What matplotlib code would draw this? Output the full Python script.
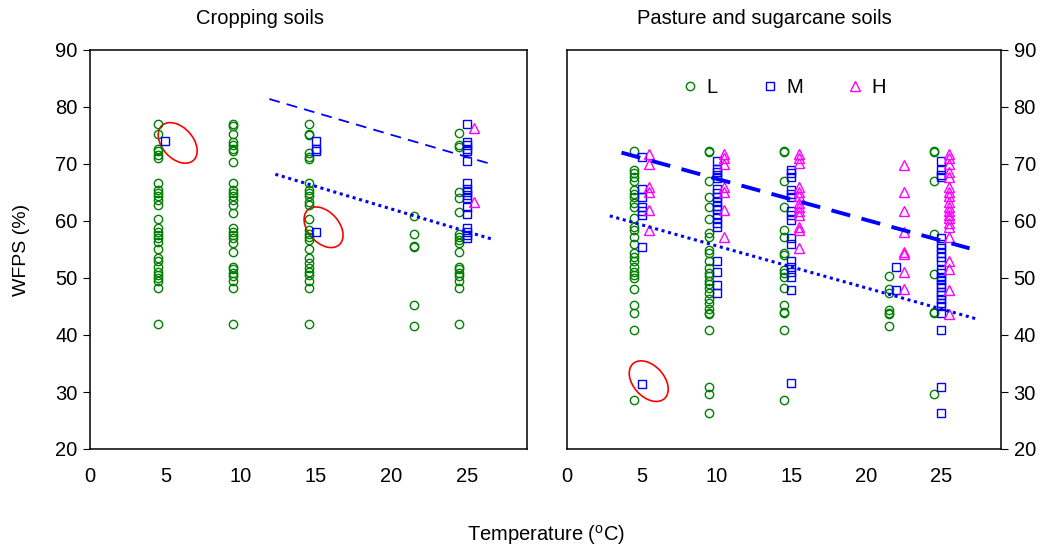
import matplotlib
matplotlib.use("Agg")
import matplotlib.pyplot as plt
import matplotlib.transforms as mtransforms
from matplotlib.patches import Ellipse
from matplotlib.lines import Line2D

plt.rcParams['font.family'] = ['Liberation Sans', 'DejaVu Sans']

temps = [5, 10, 15, 22, 25]

# Cropping soils: WFPS values per temperature (5, 10, 15, 22, 25)
crop_L = [
    [77, 75.2, 72.7, 72.2, 71.6, 71, 66.7, 65.4, 64.9, 64.3, 63.7, 62.8, 60.3, 58.7,
     58.1, 57.5, 57, 56.4, 55, 53.5, 52.9, 52, 51.1, 50.5, 50, 49.4, 48.3, 42],
    [77, 76.6, 75.2, 73.9, 73.3, 72.7, 72.2, 70.4, 66.7, 65.4, 64.9, 64.3, 63.7, 62.8,
     61.4, 58.7, 58.1, 57.5, 57, 56.1, 54.5, 52, 51.5, 50.9, 50.3, 49.4, 48.3, 42],
    [77, 75.2, 75.1, 72, 71.3, 70.8, 66.7, 65.4, 64.9, 64.3, 63.4, 62.8, 60.3, 58.4,
     57.8, 57.2, 56.7, 55, 53.5, 52.6, 51.7, 51.1, 50.5, 49.4, 48.3, 42],
    [60.8, 57.7, 55.5, 55.7, 45.3, 41.5],
    [75.4, 73.3, 73, 65.1, 64, 61.6, 57.8, 57.25, 56.7, 56.1, 54.6, 52, 51.5, 50.9,
     50.3, 49.4, 48.3, 42],
]
crop_M = [
    [74],
    [],
    [74, 72.7, 72.2, 58],
    [],
    [77, 73.9, 73.3, 72.7, 72.2, 70.5, 66.6, 65.7, 65.1, 64.6, 64, 62.5, 61.2, 58.7,
     58.1, 57.5, 57],
]
crop_H = [[], [], [], [], [76.3, 63.4]]

# Pasture and sugarcane soils
past_L = [
    [72.3, 68.9, 68.4, 67.7, 67.1, 65.4, 64.7, 64.2, 63.1, 62.4, 60.5, 58.9, 58.4,
     57.25, 56, 54.4, 53.7, 52.9, 52, 51.1, 50.5, 50, 48, 45.3, 43.9, 40.8, 28.6],
    [72.3, 72.1, 67.1, 64.2, 62.4, 60.3, 57.95, 57.25, 54.9, 54.3, 52.9, 51.7, 50.9,
     50.35, 49.5, 49, 48.2, 47.3, 46.4, 45.6, 44.5, 43.9, 43.7, 40.8, 30.9, 29.65, 26.3],
    [72.3, 72.1, 67.1, 62.5, 58.5, 57.25, 54.4, 54, 51.4, 50.9, 50.2, 48.2, 45.3,
     44.1, 43.9, 40.8, 28.6],
    [50.35, 48, 47.3, 44.4, 43.9, 43.7, 41.5],
    [72.3, 72.1, 67.1, 57.8, 50.7, 44.1, 43.9, 29.65],
]
past_M = [
    [71.3, 65.7, 64.2, 62.5, 61.8, 61.1, 55.4, 31.4],
    [70.6, 69.2, 68.65, 68.1, 67.5, 65.6, 64.85, 64.2, 63.4, 62.6, 62.05, 61.2, 60.5,
     59.7, 58.9, 53, 51.1, 48.8, 47.4],
    [68.9, 68.4, 67.7, 65.4, 64.7, 64.2, 61.8, 61.1, 60.2, 57, 56, 52.9, 52, 51.1,
     50.1, 47.9, 31.5],
    [51.9, 47.9],
    [70.5, 68.9, 68.1, 67.7, 57, 56, 55.2, 54.4, 53.7, 52.9, 51.4, 50.9, 50.2, 49.65,
     49, 48.4, 47.6, 47, 46.3, 45.6, 45, 43.9, 40.8, 30.8, 26.3],
]
past_H = [
    [71.75, 70, 66, 65.1, 61.9, 58.5],
    [71.75, 71, 70, 66, 65.1, 61.9, 57.25],
    [71.75, 71, 70.2, 66, 65.1, 64.3, 63.1, 62.5, 61.8, 61.1, 58.9, 58.5, 55.2],
    [69.8, 65.1, 61.8, 58, 54.6, 54.2, 51.1, 48],
    [71.75, 71, 70, 68.65, 67.7, 66, 65.1, 64.3, 63.4, 62.5, 61.8, 61.1, 60.5, 59.7,
     58.9, 57.25, 52.9, 51.6, 47.9, 43.7],
]

# regression lines: (slope, intercept, x start, x end)
crop_fit_dash = (-0.7755, 90.63, 11.9, 26.6)
crop_fit_dot = (-0.7917, 77.94, 12.3, 26.7)
past_fit_dash = (-0.7223, 74.63, 3.64, 26.9)
past_fit_dot = (-0.7376, 63.01, 2.86, 27.4)

# highlighted points (x, y)
crop_circles = [(5.82, 73.7), (15.5, 58.9)]
past_circles = [(5.46, 31.9)]

GREEN, BLUE, MAGENTA = '#008000', '#0000ff', '#ff00ff'
styles = [('o', GREEN, -0.5, 6), ('s', BLUE, 0.0, 6), ('^', MAGENTA, 0.5, 6.5)]

fig = plt.figure(figsize=(10.41, 5.48), dpi=100)
ax1 = fig.add_axes([90 / 1041, 1 - 449 / 548, 437 / 1041, 399 / 548])
ax2 = fig.add_axes([567 / 1041, 1 - 449 / 548, 434 / 1041, 399 / 548])


def draw_groups(ax, groups):
    for vals, (mk, col, off, ms) in zip(groups, styles):
        for t, ys in zip(temps, vals):
            ax.plot([t + off] * len(ys), ys, mk, ls='none', mfc='none', mec=col,
                    ms=ms, mew=1.0)


def draw_fit(ax, fit, ls, lw):
    m, b, x0, x1 = fit
    ax.plot([x0, x1], [m * x0 + b, m * x1 + b], color=BLUE, ls=ls, lw=lw)


def draw_ellipses(ax, centres):
    for x, y in centres:
        tr = fig.dpi_scale_trans + mtransforms.ScaledTranslation(x, y, ax.transData)
        ax.add_patch(Ellipse((0, 0), 0.47, 0.31, angle=-48, transform=tr,
                             fill=False, ec='red', lw=1.2, clip_on=False))


draw_groups(ax1, [crop_L, crop_M, crop_H])
draw_fit(ax1, crop_fit_dash, (0, (6, 4)), 1.3)
draw_fit(ax1, crop_fit_dot, (0, (1, 1.2)), 2.2)
draw_ellipses(ax1, crop_circles)

draw_groups(ax2, [past_L, past_M, past_H])
draw_fit(ax2, past_fit_dash, (0, (5, 3)), 2.8)
draw_fit(ax2, past_fit_dot, (0, (1, 1.2)), 2.2)
draw_ellipses(ax2, past_circles)

for ax in (ax1, ax2):
    ax.set_xlim(0, 29)
    ax.set_ylim(20, 90)
    ax.set_xticks([0, 5, 10, 15, 20, 25])
    ax.set_yticks(range(20, 91, 10))
    ax.tick_params(axis='x', length=0, pad=13, labelsize=14.5)
    ax.tick_params(axis='y', length=5, width=0.8, pad=4, labelsize=14.5)
    for sp in ax.spines.values():
        sp.set_linewidth(1.1)

ax2.yaxis.tick_right()

handles = [Line2D([], [], marker=mk, ls='none', mfc='none', mec=col, ms=ms, mew=1.0)
           for mk, col, off, ms in styles]
ax2.legend(handles, ['L', 'M', 'H'], ncol=3, frameon=False, loc='center',
           bbox_to_anchor=(0.5, 0.905), fontsize=14.5, handlelength=0.8,
           handletextpad=0.4, columnspacing=2.2)

fig.text(260 / 1041, 1 - 18 / 548, 'Cropping soils', ha='center', va='center', fontsize=14.5)
fig.text(764 / 1041, 1 - 18 / 548, 'Pasture and sugarcane soils', ha='center', va='center',
         fontsize=14.5)
fig.text(22 / 1041, 1 - 250 / 548, 'WFPS (%)', rotation=90, ha='center', va='center',
         fontsize=14)
fig.text(546 / 1041, 1 - 535 / 548, r'Temperature ($\mathregular{^oC}$)', ha='center',
         va='center', fontsize=14.5)

fig.savefig('out.png', dpi=100)
